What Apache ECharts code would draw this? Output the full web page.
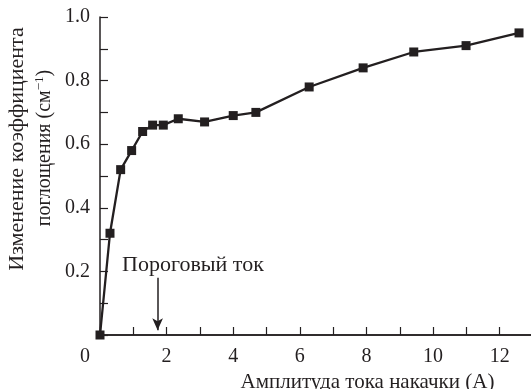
<!DOCTYPE html>
<html>
<head>
<meta charset="utf-8">
<script src="https://cdn.jsdelivr.net/npm/echarts@6/dist/echarts.min.js"></script>
<style>
  html, body { margin: 0; padding: 0; background: #fff; }
  #chart { width: 531px; height: 389px; }
</style>
</head>
<body>
<div id="chart"></div>
<script>
// pump current amplitude (A) and absorption change (cm^-1)
const currents = [0, 0.3, 0.62, 0.95, 1.28, 1.58, 1.9, 2.35, 3.14, 4.0, 4.68, 6.28, 7.9, 9.42, 10.99, 12.58];
const absorption = [0, 0.32, 0.52, 0.58, 0.64, 0.66, 0.66, 0.68, 0.67, 0.69, 0.70, 0.78, 0.84, 0.89, 0.91, 0.95];
const thresholdCurrent = 1.73;
const thresholdLabel = "Пороговый ток";
const xTitle = "Амплитуда тока накачки (А)";
const yTitleLine1 = "Изменение коэффициента";
const yTitleLine2 = "поглощения (см";

const ink = "#231f20";
const font = "Liberation Serif";

const chart = echarts.init(document.getElementById("chart"), undefined, { renderer: "canvas" });

const axisBase = {
  splitLine: { show: false },
  axisLine: { onZero: false, lineStyle: { color: ink, width: 1.5 } },
  axisTick: { inside: true, length: 8, lineStyle: { color: ink, width: 1.2 } },
};

chart.setOption({
  animation: false,
  backgroundColor: "#fff",
  textStyle: { fontFamily: font, color: ink },
  grid: { left: 100, right: -2, top: 17, bottom: 54, outerBoundsMode: "none" },
  xAxis: [
    {
      ...axisBase,
      type: "value",
      min: 0,
      max: 13,
      interval: 1,
      axisLabel: {
        margin: 12,
        fontSize: 20,
        fontFamily: font,
        color: ink,
        formatter: (v) => {
          const n = Math.round(v);
          if (Math.abs(v - n) > 1e-6 || n % 2 !== 0) return "";
          return n === 0 ? "{zero|0}" : String(n);
        },
        rich: { zero: { fontSize: 20, fontFamily: font, color: ink, padding: [0, 30, 0, 0] } },
      },
      name: xTitle,
      nameLocation: "middle",
      nameGap: 34,
      nameTextStyle: { fontSize: 21, fontFamily: font, color: ink, padding: [0, 0, 0, 102] },
    },
    {
      type: "value",
      position: "top",
      min: 0,
      max: 13,
      splitLine: { show: false },
      axisLine: { show: true, lineStyle: { color: ink, width: 1.5 } },
      axisTick: { show: false },
      axisLabel: { show: false },
    },
  ],
  yAxis: {
    ...axisBase,
    type: "value",
    min: 0,
    max: 1,
    interval: 0.1,
    axisLabel: {
      margin: 10,
      fontSize: 20,
      fontFamily: font,
      color: ink,
      formatter: (v) => {
        const n = Math.round(v * 10);
        return n === 0 || n % 2 !== 0 ? "" : (n / 10).toFixed(1);
      },
    },
  },
  graphic: [
    {
      type: "text",
      x: 17, y: 149,
      rotation: Math.PI / 2,
      style: {
        text: yTitleLine1,
        font: `22px "${font}"`,
        fill: ink,
        align: "center",
        verticalAlign: "middle",
      },
    },
    {
      type: "text",
      x: 45, y: 148,
      rotation: Math.PI / 2,
      style: {
        text: `{b|${yTitleLine2}}{sup|−1}{b|)}`,
        fill: ink,
        align: "center",
        verticalAlign: "middle",
        rich: {
          b: { fontSize: 20, fontFamily: font, fill: ink },
          sup: { fontSize: 13, fontFamily: font, fill: ink, padding: [0, 0, 10, 0] },
        },
      },
    },
  ],
  series: [
    {
      type: "line",
      data: currents.map((x, i) => [x, absorption[i]]),
      symbol: "rect",
      symbolSize: 9,
      itemStyle: { color: ink },
      lineStyle: { color: ink, width: 2.3 },
      clip: false,
      markLine: {
        silent: true,
        symbol: ["none", "arrow"],
        symbolSize: [8, 12],
        lineStyle: { color: ink, width: 1.5, type: "solid" },
        label: { show: false },
        data: [[{ coord: [thresholdCurrent, 0.18] }, { coord: [thresholdCurrent, 0.015] }]],
      },
      markPoint: {
        silent: true,
        symbol: "circle",
        symbolSize: 0,
        label: {
          show: true,
          position: "inside",
          formatter: thresholdLabel,
          fontSize: 22,
          fontFamily: font,
          color: ink,
        },
        data: [{ coord: [2.79, 0.22] }],
      },
    },
  ],
});
</script>
</body>
</html>
